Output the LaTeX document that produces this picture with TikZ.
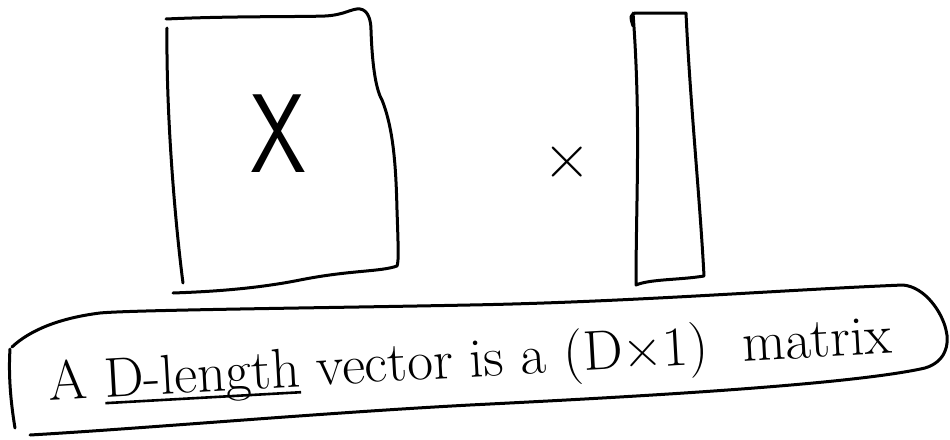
\documentclass[tikz,border=0pt]{standalone}
\newcommand\thkul[1]{\setbox0\hbox{#1}\rlap{\rule[-7pt]{\wd0}{2.6pt}}\box0\relax}
\begin{document}
\begin{tikzpicture}[x=1pt,y=-1pt,
  ink/.style={line width=3pt,line cap=round,line join=round,black},
  lbl/.style={inner sep=0pt,text=black}]
\useasboundingbox[fill=white] (0,0) rectangle (950,439);
% big matrix X
\draw[ink] (166,19) .. controls (230,16) and (300,17) .. (325,16)
  .. controls (345,15) and (352,8) .. (360,9)
  .. controls (368,10) and (371,20) .. (371,30)
  .. controls (372,60) and (375,88) .. (382,100)
  .. controls (394,130) and (396,170) .. (397,210)
  .. controls (398,240) and (399,262) .. (397,266)
  .. controls (380,272) and (350,270) .. (300,280)
  .. controls (250,290) and (200,292) .. (173,293);
\draw[ink] (167,28) .. controls (166,120) and (176,230) .. (183,283);
\node[lbl,font=\fontsize{112}{120}\selectfont\sffamily,xscale=0.8] (X) at (278,134) {X};
% multiplication sign
\node[lbl,font=\fontsize{66}{72}\selectfont] (times) at (567,163) {×};
% narrow vector box
\draw[ink] (633,26) .. controls (630,16) .. (635,13) -- (686,13)
  .. controls (690,100) and (700,200) .. (704,276)
  .. controls (680,280) and (650,279) .. (636,285)
  .. controls (636,200) and (641,120) .. (633,13);
% banner
\draw[ink] (30,435) .. controls (150,428) and (320,413) .. (470,405)
  .. controls (630,397) and (850,385) .. (925,368)
  .. controls (945,362) and (950,345) .. (946,330)
  .. controls (942,312) and (925,287) .. (903,285)
  .. controls (780,290) and (630,302) .. (470,305)
  .. controls (320,308) and (130,310) .. (100,313)
  .. controls (60,318) and (30,330) .. (12,347);
\draw[ink] (10,349) .. controls (8,380) and (12,410) .. (15,428);
\node[lbl,font=\fontsize{56}{64}\selectfont,rotate=3.2,anchor=base] (txt) at (471,377)
  {A \thkul{D-length} vector is a (D×1)\ \ matrix};
\end{tikzpicture}
\end{document}
